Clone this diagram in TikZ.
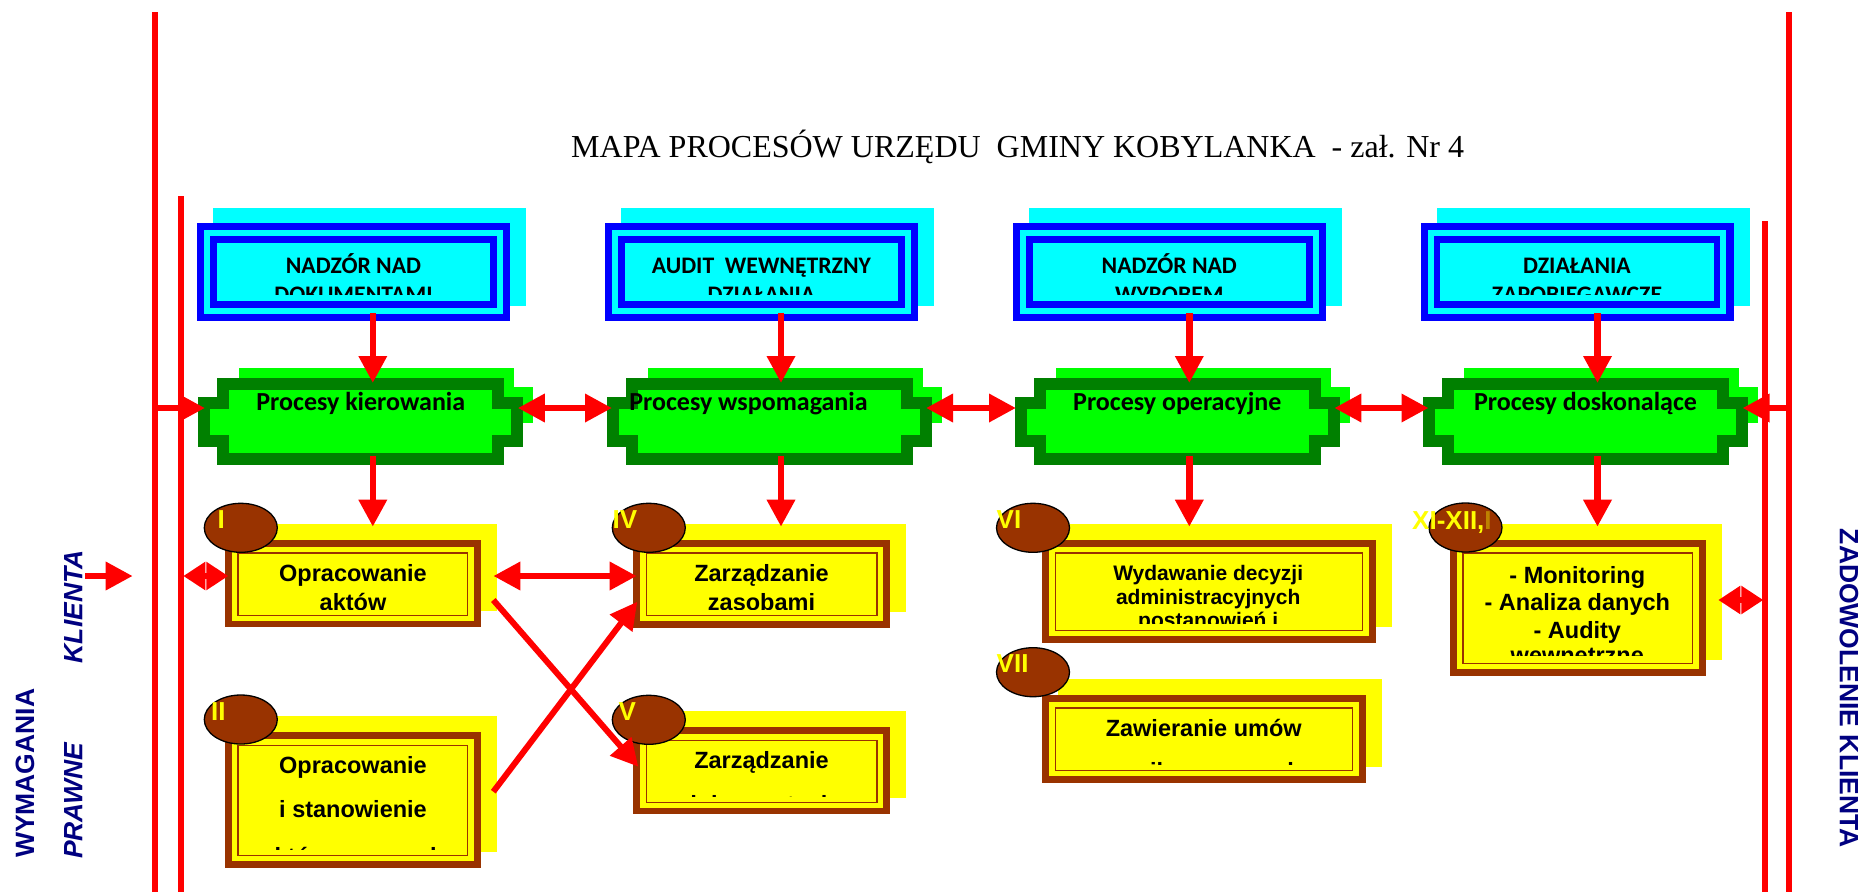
\documentclass[tikz,border=0pt]{standalone}
\usepackage{fontspec}
\setmainfont{Liberation Serif}
\newfontfamily\arialf{Liberation Sans}
\newfontfamily\calf{Carlito}
\usetikzlibrary{arrows.meta,shapes.geometric}
\definecolor{rd}{RGB}{255,0,0}
\definecolor{cy}{RGB}{0,255,255}
\definecolor{bl}{RGB}{0,0,255}
\definecolor{lg}{RGB}{0,255,0}
\definecolor{dg}{RGB}{0,128,0}
\definecolor{yl}{RGB}{255,255,0}
\definecolor{br}{RGB}{153,51,0}
\definecolor{nv}{RGB}{0,0,128}
\definecolor{dimlbl}{RGB}{190,130,0}

% name, cx, line1, line2
\newcommand\CyanBox[4]{%
  \fill[cy] ({#2-140.5},208) rectangle ({#2+172.5},306);
  \fill[cy] ({#2-156.5},223) rectangle ({#2+156.5},321);
  \draw[bl,line width=7.3] ({#2-152.85},226.65) rectangle ({#2+152.85},317.35);
  \draw[bl,line width=6.7] ({#2-140},239.5) rectangle ({#2+140},304.5);
  \begin{scope}
    \clip ({#2-136.5},243) rectangle ({#2+136.5},294);
    \node[cyt] (#1a) at (#2,273.3) {#3};
    \node[cyt] (#1b) at (#2,302) {#4};
  \end{scope}}

% name, cx, text, text cx
\newcommand\GreenShape[4]{%
  \fill[lg] ({#2-121.5},368) rectangle ({#2+153.5},440);
  \fill[lg] ({#2+153.5},387) rectangle ({#2+172.5},423);
  \draw[dg,fill=lg,line width=12,miter limit=10]
    ({#2-137.5},384) -- ({#2+137.5},384) -- ({#2+137.5},402.5) -- ({#2+156.5},402.5)
    -- ({#2+156.5},440.5) -- ({#2+137.5},440.5) -- ({#2+137.5},459) -- ({#2-137.5},459)
    -- ({#2-137.5},440.5) -- ({#2-156.5},440.5) -- ({#2-156.5},402.5) -- ({#2-137.5},402.5) -- cycle;
  \node[grt] (#1) at (#4,410) {#3};}

% x0, y0, x1, y1
\newcommand\YelBox[4]{%
  \fill[yl] ({#1+16},{#2-16.5}) rectangle ({#3+16},{#4-16});
  \fill[yl] (#1,#2) rectangle (#3,#4);
  \draw[br,line width=6.7] ({#1+3.35},{#2+3.35}) rectangle ({#3-3.35},{#4-3.35});
  \draw[br,line width=1.3] ({#1+13},{#2+13}) rectangle ({#3-13},{#4-12});}

\begin{document}
\begin{tikzpicture}[x=1pt,y=-1pt,
  cyt/.style={font=\calf\bfseries\fontsize{23.7}{28}\selectfont, anchor=base, inner sep=0},
  grt/.style={font=\calf\bfseries\fontsize{26}{30}\selectfont, anchor=base, inner sep=0},
  ytx/.style={font=\arialf\bfseries\fontsize{23.5}{28}\selectfont, anchor=base, inner sep=0},
  ytxs/.style={font=\arialf\bfseries\fontsize{21}{25}\selectfont, anchor=base, inner sep=0},
  lbl/.style={font=\arialf\bfseries\fontsize{26}{30}\selectfont, text=yl, anchor=base west, inner sep=0},
  ovl/.style={ellipse, fill=br, draw=black, line width=1.3, minimum width=73, minimum height=49, inner sep=0},
  side/.style={font=\arialf\bfseries\fontsize{26.5}{30}\selectfont, text=nv, inner sep=0},
  redline/.style={rd, line width=6},
  arr/.style={rd, line width=6.5, -{Triangle[length=27pt,width=27pt]}},
  darr/.style={rd, line width=6.5, {Triangle[length=27pt,width=27pt]}-{Triangle[length=27pt,width=27pt]}},
  sdarr/.style={rd, line width=6.5, {Triangle[length=22pt,width=27pt]}-{Triangle[length=22pt,width=27pt]}},
  xarr/.style={rd, line width=6, -{Triangle[length=27pt,width=27pt]}}
]
\fill[white] (0,0) rectangle (1863,892);
\useasboundingbox (0,0) rectangle (1863,892);

% title
\node[anchor=base west, inner sep=0, font=\fontsize{32}{38}\selectfont] (title) at (571,157.7)
  {MAPA PROCESÓW URZĘDU~~GMINY KOBYLANKA~~- zał. Nr 4};

% frame lines
\coordinate (LoT) at (155,12);  \coordinate (LoB) at (155,892);
\coordinate (LiT) at (181,196); \coordinate (LiB) at (181,892);
\coordinate (RiT) at (1765,221); \coordinate (RiB) at (1765,892);
\coordinate (RoT) at (1789,12); \coordinate (RoB) at (1789,892);
\draw[redline] (LoT) -- (LoB);
\draw[redline] (LiT) -- (LiB);
\draw[redline] (RiT) -- (RiB);
\draw[redline] (RoT) -- (RoB);

% cyan boxes
\CyanBox{cA}{353.5}{NADZÓR NAD}{DOKUMENTAMI}
\CyanBox{cB}{761.4}{AUDIT~~WEWNĘTRZNY}{DZIAŁANIA}
\CyanBox{cC}{1169.3}{NADZÓR NAD}{WYROBEM}
\CyanBox{cD}{1577}{DZIAŁANIA}{ZAPOBIEGAWCZE}

% green shapes
\GreenShape{gA}{360.8}{Procesy kierowania}{360.8}
\GreenShape{gB}{769}{Procesy wspomagania}{748.5}
\GreenShape{gC}{1177.3}{Procesy operacyjne}{1177.3}
\GreenShape{gD}{1585.5}{Procesy doskonalące}{1585.5}

% yellow boxes
\YelBox{225}{540}{480.7}{627.3}
\YelBox{225}{732.3}{480.7}{867.7}
\YelBox{633.3}{540}{890}{627.7}
\YelBox{633.3}{727.3}{890}{814.3}
\YelBox{1042.3}{540}{1375.7}{642.7}
\YelBox{1042.3}{695}{1365.7}{782.7}
\YelBox{1450}{540}{1705.7}{675.7}

\begin{scope}
  \clip (238,553) rectangle (468,609);
  \node[ytx] (tI1) at (353,581.7) {Opracowanie};
  \node[ytx] (tI2) at (353,610) {aktów};
\end{scope}
\begin{scope}
  \clip (238,745) rectangle (468,849.3);
  \node[ytx] (tII1) at (353,773.3) {Opracowanie};
  \node[ytx] (tII2) at (353,817.7) {i stanowienie};
  \node[ytx] (tII3) at (353,864) {aktów prawnych};
\end{scope}
\begin{scope}
  \clip (646,553) rectangle (877,609);
  \node[ytx] (tIV1) at (761.5,581.7) {Zarządzanie};
  \node[ytx] (tIV2) at (761.5,610) {zasobami};
\end{scope}
\begin{scope}
  \clip (646,740) rectangle (877,796);
  \node[ytx] (tV1) at (761.5,768.3) {Zarządzanie};
  \node[ytx] (tV2) at (761.5,812) {dokumentacją};
\end{scope}
\begin{scope}
  \clip (1055,553) rectangle (1362,623.3);
  \node[ytxs] (tVI1) at (1208.2,580) {Wydawanie decyzji};
  \node[ytxs] (tVI2) at (1208.2,604.3) {administracyjnych};
  \node[ytxs] (tVI3) at (1208.2,627) {postanowień i};
\end{scope}
\begin{scope}
  \clip (1055,708) rectangle (1352,764);
  \node[ytx] (tVII1) at (1203.7,736.7) {Zawieranie umów};
  \node[ytx] (tVII2) at (1203.7,779.4) {cywilnoprawnych};
\end{scope}
\begin{scope}
  \clip (1463,553) rectangle (1692,655.7);
  \node[ytx] (tXI1) at (1577.3,583.3) {- Monitoring};
  \node[ytx] (tXI2) at (1577.3,610.7) {- Analiza danych};
  \node[ytx] (tXI3) at (1577.3,638.3) {- Audity};
  \node[ytx] (tXI4) at (1577.3,663) {wewnętrzne};
\end{scope}

% ellipses with numbers
\node[ovl] (eI) at (240.8,527.8) {};
\node[lbl] (lI) at (217.5,528.3) {I};
\node[ovl] (eII) at (240.8,719.5) {};
\node[lbl] (lII) at (211,720) {II};
\node[ovl] (eIV) at (648.8,527.8) {};
\node[lbl] (lIV) at (612.5,528.3) {IV};
\node[ovl] (eV) at (648.8,719.8) {};
\node[lbl] (lV) at (618.5,720) {V};
\node[ovl] (eVI) at (1033,527.8) {};
\node[lbl] (lVI) at (996.5,528.3) {VI};
\node[ovl] (eVII) at (1033,672.2) {};
\node[lbl] (lVII) at (996.5,672.7) {VII};
\node[ovl] (eXI) at (1465.5,527.5) {};
\node[lbl] (lXI) at (1412,529) {XI-XII,\textcolor{dimlbl}{I}};

% connector end points
\coordinate (cAo) at (372.8,313);   \coordinate (gAi) at (372.8,383);
\coordinate (cBo) at (781,313);     \coordinate (gBi) at (781,383);
\coordinate (cCo) at (1189.3,313);  \coordinate (gCi) at (1189.3,383);
\coordinate (cDo) at (1597.5,313);  \coordinate (gDi) at (1597.5,383);
\coordinate (gAo) at (372.8,456);   \coordinate (yIi) at (372.8,526.7);
\coordinate (gBo) at (781,456);     \coordinate (yIVi) at (781,526.7);
\coordinate (gCo) at (1189.3,456);  \coordinate (yVIi) at (1189.3,526.7);
\coordinate (gDo) at (1597.5,456);  \coordinate (yXIi) at (1597.5,526.7);
\coordinate (gAw) at (205,408);     \coordinate (gAe) at (517.8,408);
\coordinate (gBw) at (612,408);     \coordinate (gBe) at (926,408);
\coordinate (gCw) at (1016,408);    \coordinate (gCe) at (1334.3,408);
\coordinate (gDw) at (1428.5,408);  \coordinate (gDe) at (1742.5,408);
\coordinate (LoM) at (155,408);     \coordinate (RoM) at (1789,408);
\coordinate (LiY) at (183.3,576);   \coordinate (yIw) at (228.3,576);
\coordinate (yIe) at (493.3,576);   \coordinate (yIVw) at (636.7,576);
\coordinate (yIx) at (493.3,600);   \coordinate (yVw) at (638.3,766.7);
\coordinate (yIIx) at (493.3,791.7); \coordinate (yIVx) at (637.3,601.7);
\coordinate (yXIe) at (1718.3,600); \coordinate (RiY) at (1763.3,600);
\coordinate (kl0) at (85,576);      \coordinate (kl1) at (132.7,576);

% connectors
\draw[arr] (cAo) -- (gAi);
\draw[arr] (cBo) -- (gBi);
\draw[arr] (cCo) -- (gCi);
\draw[arr] (cDo) -- (gDi);
\draw[arr] (gAo) -- (yIi);
\draw[arr] (gBo) -- (yIVi);
\draw[arr] (gCo) -- (yVIi);
\draw[arr] (gDo) -- (yXIi);
\draw[arr] (LoM) -- (gAw);
\draw[arr] (RoM) -- (gDe);
\draw[darr] (gAe) -- (gBw);
\draw[darr] (gBe) -- (gCw);
\draw[darr] (gCe) -- (gDw);
\draw[sdarr] (LiY) -- (yIw);
\draw[darr] (yIe) -- (yIVw);
\draw[xarr] (yIx) -- (yVw);
\draw[xarr] (yIIx) -- (yIVx);
\draw[sdarr] (yXIe) -- (RiY);
\draw[arr] (kl0) -- (kl1);

% side texts
\node[side, rotate=90] (wym) at (25,773.3) {WYMAGANIA};
\node[side, rotate=90, font=\arialf\bfseries\itshape\fontsize{26.5}{30}\selectfont] (kli) at (73.3,606.7) {KLIENTA};
\node[side, rotate=90, font=\arialf\bfseries\itshape\fontsize{26.5}{30}\selectfont] (pra) at (73.3,800.8) {PRAWNE};
\node[side, rotate=-90] (zad) at (1849,688.3) {ZADOWOLENIE KLIENTA};
\end{tikzpicture}
\end{document}
